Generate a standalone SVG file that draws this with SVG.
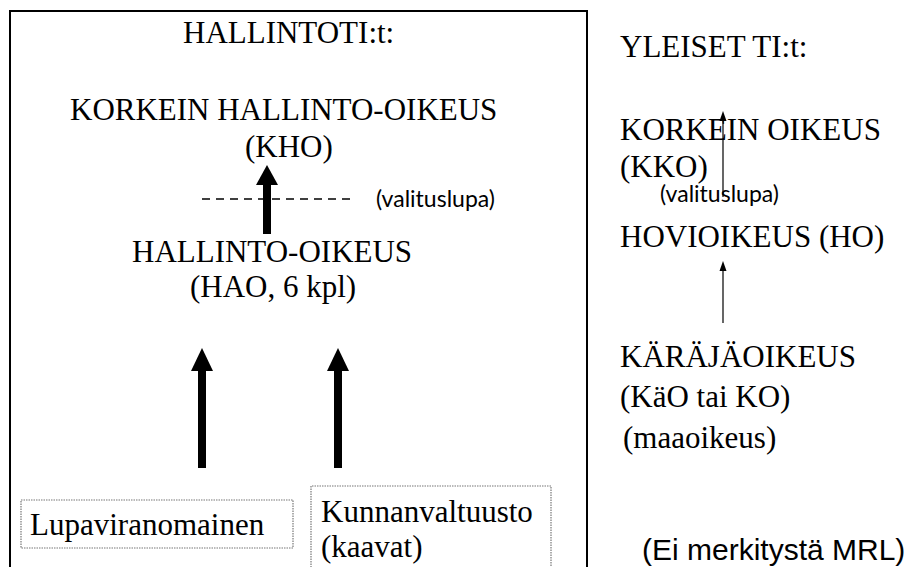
<svg xmlns="http://www.w3.org/2000/svg" width="915" height="567" viewBox="0 0 915 567">
<defs>
<style>
.serif{font-family:"Liberation Serif","Times New Roman",serif;font-size:31px;fill:#000}
.small{font-family:Lato,"Open Sans",sans-serif;font-size:23px;fill:#000}
.sans{font-family:"Liberation Sans",Arial,sans-serif;font-size:30px;fill:#000}
.thick{stroke:#000;stroke-width:8;fill:none}
.thin{stroke:#000;stroke-width:1.2;fill:none}
.dotbox{fill:none;stroke:#777;stroke-width:1.2;stroke-dasharray:1.5 1}
</style>
</defs>
<rect width="915" height="567" fill="#fff"/>
<path d="M10,567 V11 H587 V567" fill="none" stroke="#000" stroke-width="2"/>
<g id="hallintotit"><text class="serif" x="183" y="43">HALLINTOTI:t:</text></g>
<g id="kho"><text class="serif" x="70" y="120">KORKEIN HALLINTO-OIKEUS</text><text class="serif" x="245" y="157">(KHO)</text></g>
<g id="hao"><text class="serif" x="132" y="262">HALLINTO-OIKEUS</text><text class="serif" x="190" y="297">(HAO, 6 kpl)</text></g>
<g id="valituslupa1"><line x1="202" y1="199" x2="350" y2="199" stroke="#000" stroke-width="1.5" stroke-dasharray="8 6"/><text class="small" x="376" y="207">(valituslupa)</text></g>
<g id="lupaviranomainen"><rect class="dotbox" x="21" y="500" width="272" height="48"/><text class="serif" x="30" y="535">Lupaviranomainen</text></g>
<g id="kunnanvaltuusto"><path class="dotbox" d="M311,570 V486 H551 V570"/><text class="serif" x="321" y="522">Kunnanvaltuusto</text><text class="serif" x="321" y="557">(kaavat)</text></g>
<g id="yleiset"><text class="serif" x="620" y="57">YLEISET TI:t:</text></g>
<g id="kko"><text class="serif" x="620" y="140">KORKEIN OIKEUS</text><text class="serif" x="620" y="177">(KKO)</text></g>
<g id="valituslupa2"><text class="small" x="660" y="202">(valituslupa)</text></g>
<g id="ho"><text class="serif" x="620" y="247">HOVIOIKEUS (HO)</text></g>
<g id="kao"><text class="serif" x="620" y="367">KÄRÄJÄOIKEUS</text><text class="serif" x="620" y="407">(KäO tai KO)</text><text class="serif" x="623" y="448">(maaoikeus)</text></g>
<g id="note"><text class="sans" x="642" y="560">(Ei merkitystä MRL)</text></g>
<g id="connectors">
<line class="thick" x1="267" y1="234" x2="267" y2="182"/><path d="M256,185 L267,165 L278,185 Z"/>
<line class="thick" x1="202" y1="468" x2="202" y2="368"/><path d="M191,371 L202,348 L213,371 Z"/>
<line class="thick" x1="338" y1="468" x2="338" y2="368"/><path d="M327,371 L338,348 L349,371 Z"/>
<line class="thin" x1="723" y1="197" x2="723" y2="119"/><path d="M719.5,121 L723,111 L726.5,121 Z"/>
<line class="thin" x1="723" y1="323" x2="723" y2="269"/><path d="M719.5,271 L723,261 L726.5,271 Z"/>
</g>
</svg>
